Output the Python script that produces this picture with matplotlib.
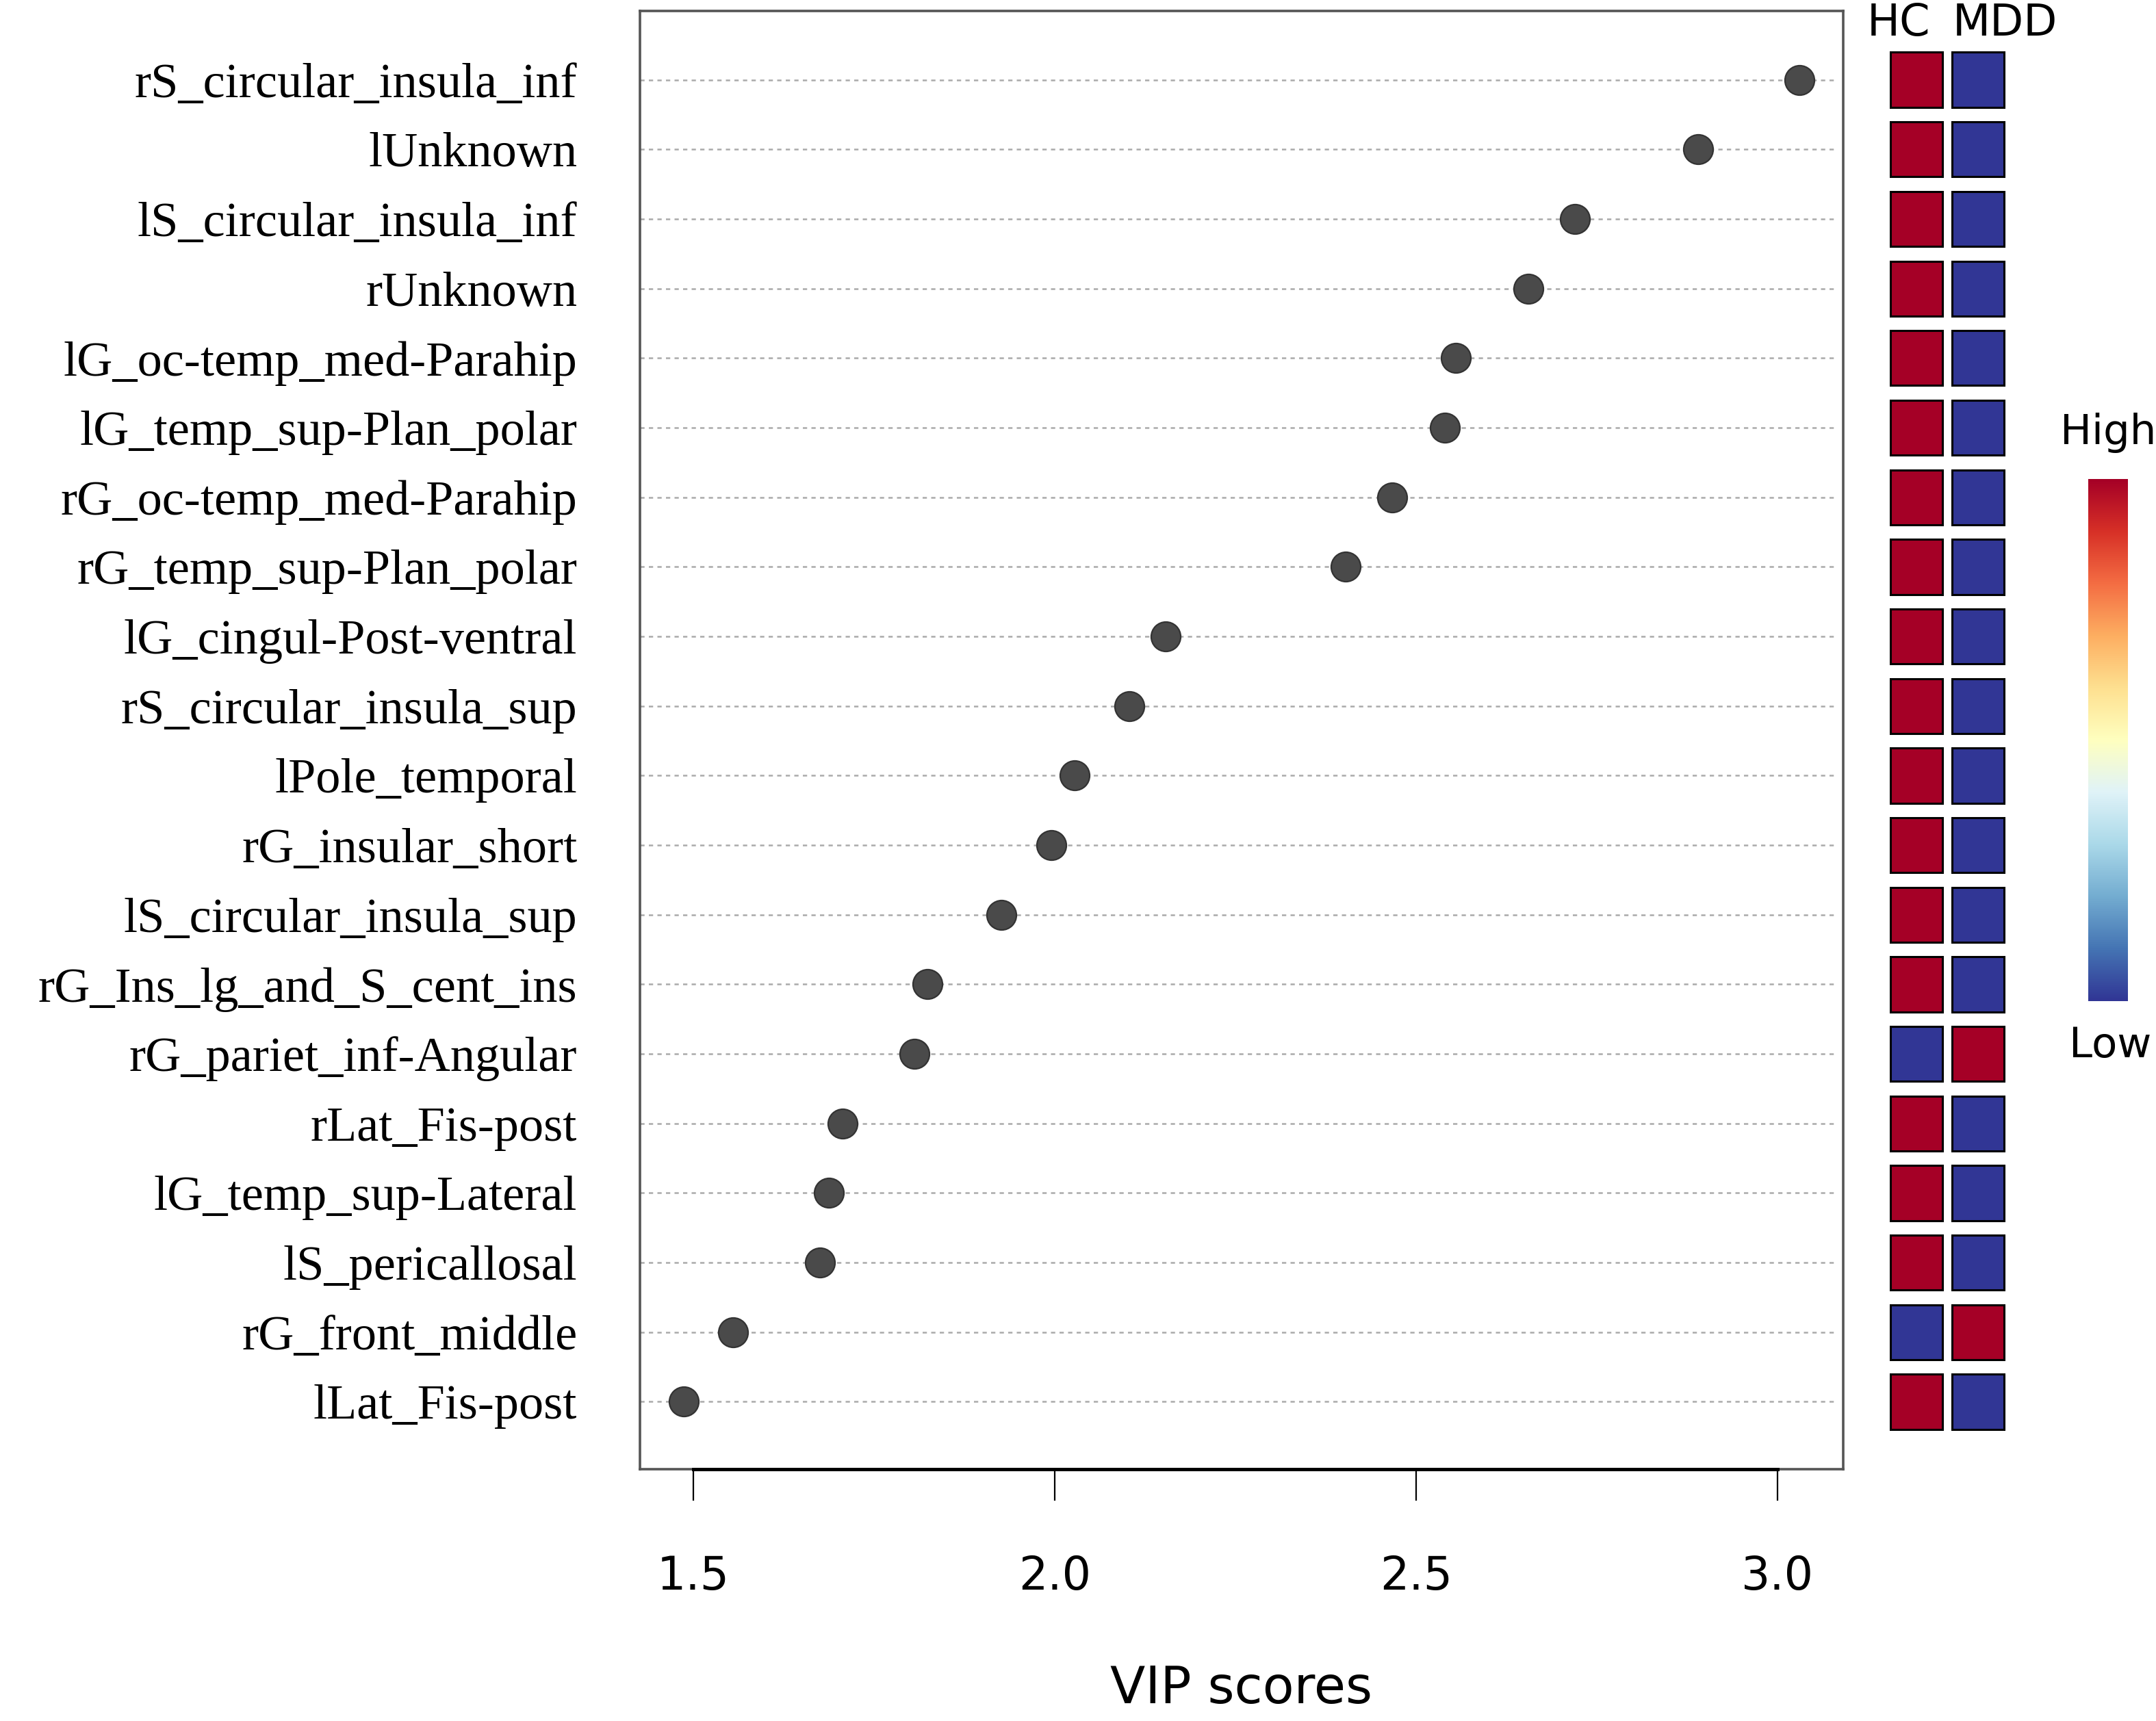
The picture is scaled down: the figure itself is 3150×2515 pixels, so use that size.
import numpy as np
import matplotlib
matplotlib.use('Agg')
import matplotlib.pyplot as plt
from matplotlib.patches import Rectangle

# Features ordered top to bottom
features = ['rS_circular_insula_inf', 'lUnknown', 'lS_circular_insula_inf', 'rUnknown',
            'lG_oc-temp_med-Parahip', 'lG_temp_sup-Plan_polar', 'rG_oc-temp_med-Parahip',
            'rG_temp_sup-Plan_polar', 'lG_cingul-Post-ventral', 'rS_circular_insula_sup',
            'lPole_temporal', 'rG_insular_short', 'lS_circular_insula_sup',
            'rG_Ins_lg_and_S_cent_ins', 'rG_pariet_inf-Angular', 'rLat_Fis-post',
            'lG_temp_sup-Lateral', 'lS_pericallosal', 'rG_front_middle', 'lLat_Fis-post']
vip = [3.03, 2.89, 2.72, 2.655, 2.555, 2.54, 2.467, 2.402, 2.153, 2.103,
       2.027, 1.995, 1.926, 1.824, 1.806, 1.706, 1.687, 1.675, 1.555, 1.487]
groups = ['HC', 'MDD']
# 1 = high, 0 = low (HC, MDD)
hc_level = [1, 1, 1, 1, 1, 1, 1, 1, 1, 1, 1, 1, 1, 1, 0, 1, 1, 1, 0, 1]
mdd_level = [0, 0, 0, 0, 0, 0, 0, 0, 0, 0, 0, 0, 0, 0, 1, 0, 0, 0, 1, 0]
xticks = [1.5, 2.0, 2.5, 3.0]

W, H = 3150, 2515
fig = plt.figure(figsize=(W / 200, H / 200), dpi=200)

sans = ['DejaVu Sans']
serif = ['Liberation Serif', 'DejaVu Serif']

# main dot plot
left, right, top, bottom = 935, 2693, 16, 2147
ax = fig.add_axes([left / W, 1 - bottom / H, (right - left) / W, (bottom - top) / H])
y = np.arange(len(features))
ax.set_xlim(1.426, 3.091)
ax.set_ylim(19.97, -0.99)
ax.hlines(y, 1.426, 3.082, colors='#aaaaaa', linestyles=(0, (2.5, 2.5)), lw=0.9, zorder=1)
ax.plot(vip, y, 'o', ms=15.5, color='#4a4a4a', mec='#333333', mew=0.8, zorder=3)

for s in ax.spines.values():
    s.set_color('#555555')
    s.set_linewidth(1.3)
ax.plot([1.5, 3.0], [0, 0], transform=ax.get_xaxis_transform(), color='black',
        lw=1.8, clip_on=False, zorder=5)

ax.set_yticks(y)
ax.set_yticklabels(features, family=serif, fontsize=26)
ax.tick_params(axis='y', length=0, pad=33)
ax.set_xticks(xticks)
ax.set_xticklabels([f'{t:.1f}' for t in xticks], family=sans, fontsize=24)
ax.tick_params(axis='x', length=16.5, width=0.8, pad=28)

fig.text((left + right) / 2 / W, 1 - 2468 / H, 'VIP scores', family=sans, fontsize=27,
         ha='center', va='center')

# heatmap of group levels
red, blue = '#a50026', '#313695'
hx0, hx1 = 2755, 2935
axh = fig.add_axes([hx0 / W, 1 - bottom / H, (hx1 - hx0) / W, (bottom - top) / H])
axh.set_xlim(0, 2)
axh.set_ylim(19.97, -0.99)
axh.axis('off')
for col, levels in enumerate([hc_level, mdd_level]):
    for i, lv in enumerate(levels):
        axh.add_patch(Rectangle((col + 0.08, i - 0.395), 0.84, 0.79,
                                facecolor=red if lv else blue, edgecolor='black', lw=1.1))

fig.text(2774 / W, 1 - 34 / H, groups[0], family='DejaVu Sans', fontsize=23,
         ha='center', va='center')
fig.text(2929 / W, 1 - 34 / H, groups[1], family='DejaVu Sans', fontsize=23,
         ha='center', va='center')

# colour key
axc = fig.add_axes([3051 / W, 1 - 1463 / H, 58 / W, (1463 - 700) / H])
grad = np.linspace(1, 0, 256).reshape(-1, 1)
axc.imshow(grad, aspect='auto', cmap='RdYlBu_r', vmin=0, vmax=1)
axc.axis('off')
fig.text(3080 / W, 1 - 633 / H, 'High', family='DejaVu Sans', fontsize=22,
         ha='center', va='center')
fig.text(3083 / W, 1 - 1528 / H, 'Low', family='DejaVu Sans', fontsize=22,
         ha='center', va='center')

fig.savefig('out.png', dpi=200)
